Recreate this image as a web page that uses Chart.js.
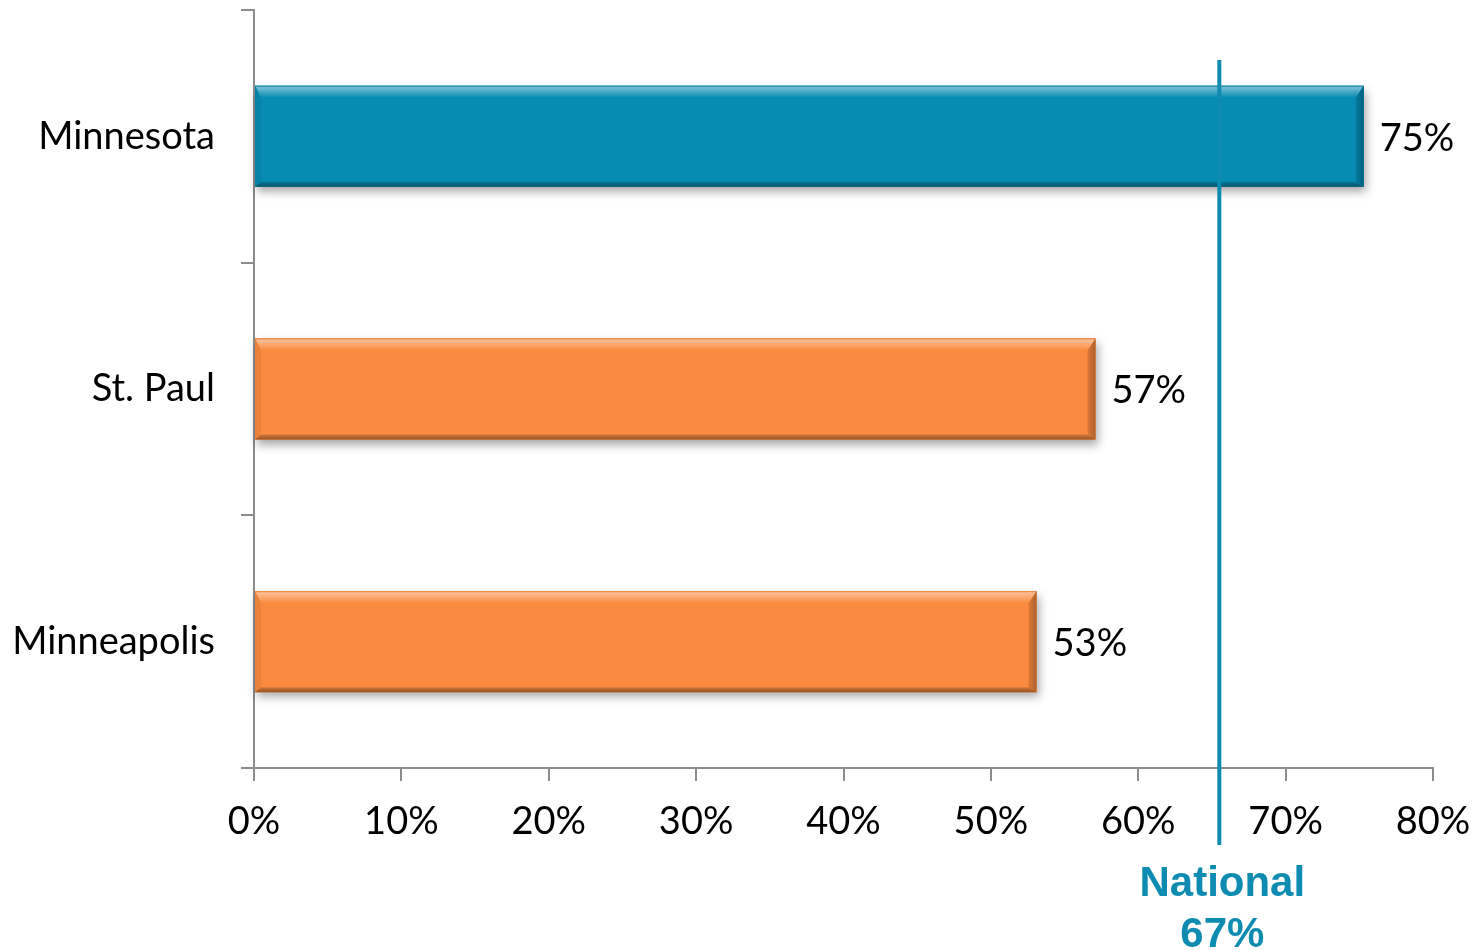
<!DOCTYPE html>
<html>
<head>
<meta charset="utf-8">
<script src="https://cdn.jsdelivr.net/npm/chart.js@4.4.1/dist/chart.umd.min.js"></script>
<style>
html,body{margin:0;padding:0;background:#fff;}
#wrap{width:1474px;height:950px;position:relative;}
</style>
</head>
<body>
<div id="wrap"><canvas id="c" width="1474" height="950"></canvas></div>
<script>
const categories = ['Minnesota', 'St. Paul', 'Minneapolis'];
const values = [75.3, 57.1, 53.1];
const valueLabels = ['75%', '57%', '53%'];
const barColors = ['#068BB2', '#F98A3F', '#F98A3F'];
const xTicks = [0, 10, 20, 30, 40, 50, 60, 70, 80];
const nationalMarker = 65.5;
const nationalLabel = ['National', '67%'];

const FONT = "Lato, 'Open Sans', sans-serif";
const FSIZE = 38;
const AXIS_GRAY = '#8c8c8c';
const TEAL = '#0E8BB0';

function shade(hex, amt) {
  const n = parseInt(hex.slice(1), 16);
  let r = (n >> 16) & 255, g = (n >> 8) & 255, b = n & 255;
  const f = (c) => amt >= 0 ? Math.round(c + (255 - c) * amt) : Math.round(c * (1 + amt));
  return `rgb(${f(r)},${f(g)},${f(b)})`;
}

const bevelPlugin = {
  id: 'bevel',
  beforeDatasetsDraw(chart) {
    const ctx = chart.ctx;
    const meta = chart.getDatasetMeta(0);
    meta.data.forEach((bar, i) => {
      const left = Math.min(bar.base, bar.x), right = Math.max(bar.base, bar.x);
      const top = bar.y - bar.height / 2;
      ctx.save();
      ctx.shadowColor = 'rgba(0,0,0,0.35)';
      ctx.shadowBlur = 9;
      ctx.shadowOffsetY = 5;
      ctx.shadowOffsetX = 2;
      ctx.fillStyle = barColors[i];
      ctx.fillRect(left, top, right - left, bar.height);
      ctx.restore();
    });
  },
  afterDatasetsDraw(chart) {
    const ctx = chart.ctx;
    const meta = chart.getDatasetMeta(0);
    meta.data.forEach((bar, i) => {
      const c = barColors[i];
      const L = Math.min(bar.base, bar.x), R = Math.max(bar.base, bar.x);
      const T = bar.y - bar.height / 2, B = bar.y + bar.height / 2;
      const bt = 12, bb = 5, br = 8, bl = 6;
      ctx.save();
      const gt = ctx.createLinearGradient(0, T, 0, T + bt);
      gt.addColorStop(0, shade(c, -0.1));
      gt.addColorStop(0.15, shade(c, 0.45));
      gt.addColorStop(0.45, shade(c, 0.28));
      gt.addColorStop(1, c);
      ctx.fillStyle = gt;
      ctx.beginPath();
      ctx.moveTo(L, T); ctx.lineTo(R, T); ctx.lineTo(R - br, T + bt); ctx.lineTo(L + bl, T + bt); ctx.closePath();
      ctx.fill();
      ctx.fillStyle = shade(c, -0.06);
      ctx.beginPath();
      ctx.moveTo(L, T); ctx.lineTo(L + bl, T + bt); ctx.lineTo(L + bl, B - bb); ctx.lineTo(L, B); ctx.closePath();
      ctx.fill();
      const gr = ctx.createLinearGradient(R - br, 0, R, 0);
      gr.addColorStop(0, shade(c, -0.12));
      gr.addColorStop(1, shade(c, -0.3));
      ctx.fillStyle = gr;
      ctx.beginPath();
      ctx.moveTo(R, T); ctx.lineTo(R, B); ctx.lineTo(R - br, B - bb); ctx.lineTo(R - br, T + bt); ctx.closePath();
      ctx.fill();
      const gb = ctx.createLinearGradient(0, B - bb, 0, B);
      gb.addColorStop(0, shade(c, -0.15));
      gb.addColorStop(1, shade(c, -0.4));
      ctx.fillStyle = gb;
      ctx.beginPath();
      ctx.moveTo(L, B); ctx.lineTo(R, B); ctx.lineTo(R - br, B - bb); ctx.lineTo(L + bl, B - bb); ctx.closePath();
      ctx.fill();
      ctx.fillStyle = '#000';
      ctx.font = `${FSIZE}px ${FONT}`;
      ctx.textAlign = 'left';
      ctx.textBaseline = 'middle';
      ctx.fillText(valueLabels[i], R + 16, bar.y + 2);
      ctx.restore();
    });
  },
  afterDraw(chart) {
    const ctx = chart.ctx;
    const x = chart.scales.x.getPixelForValue(nationalMarker);
    ctx.save();
    ctx.strokeStyle = TEAL;
    ctx.lineWidth = 4;
    ctx.beginPath();
    ctx.moveTo(x, 60);
    ctx.lineTo(x, 845);
    ctx.stroke();
    ctx.fillStyle = TEAL;
    ctx.font = "bold 42px 'Liberation Sans', Arial, sans-serif";
    ctx.textAlign = 'center';
    ctx.textBaseline = 'middle';
    ctx.fillText(nationalLabel[0], x + 3, 884);
    ctx.fillText(nationalLabel[1], x + 3, 935);
    ctx.restore();
  }
};

new Chart(document.getElementById('c'), {
  type: 'bar',
  data: {
    labels: categories,
    datasets: [{
      data: values,
      backgroundColor: barColors,
      borderWidth: 0,
      barPercentage: 0.4,
      categoryPercentage: 1.0
    }]
  },
  options: {
    indexAxis: 'y',
    responsive: false,
    animation: false,
    events: [],
    layout: { padding: { left: 0, right: 41, top: 10, bottom: 0 } },
    plugins: { legend: { display: false }, tooltip: { enabled: false } },
    scales: {
      x: {
        type: 'linear',
        min: 0, max: 80,
        afterBuildTicks(scale) { scale.ticks = xTicks.map(v => ({ value: v })); },
        afterFit(scale) { scale.height = 182; scale.paddingLeft = 0; scale.paddingRight = 0; },
        grid: { drawOnChartArea: false, drawTicks: true, tickLength: 13, color: AXIS_GRAY, lineWidth: 2 },
        border: { display: true, color: AXIS_GRAY, width: 2 },
        ticks: {
          color: '#000',
          font: { family: FONT, size: FSIZE },
          padding: 18,
          callback: (v) => v + '%'
        }
      },
      y: {
        afterFit(scale) { scale.width = 254; scale.paddingTop = 0; scale.paddingBottom = 0; },
        grid: { drawOnChartArea: false, drawTicks: true, tickLength: 13, color: AXIS_GRAY, lineWidth: 2, offset: true },
        border: { display: true, color: AXIS_GRAY, width: 2 },
        ticks: {
          color: '#000',
          font: { family: FONT, size: FSIZE },
          padding: 26
        }
      }
    }
  },
  plugins: [bevelPlugin]
});
</script>
</body>
</html>
